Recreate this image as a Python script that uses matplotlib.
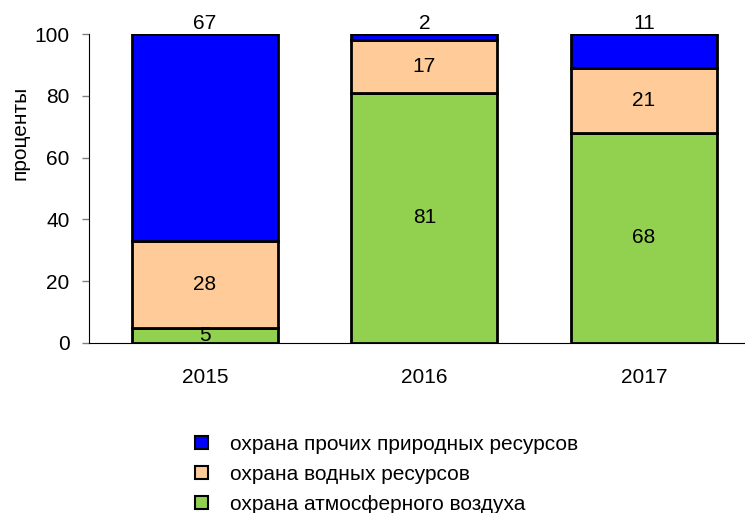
import numpy as np
import matplotlib
matplotlib.use('Agg')
from matplotlib import pyplot as plt
from matplotlib.patches import Patch

plt.rcParams['font.family'] = ['Liberation Sans', 'DejaVu Sans']

years = ['2015', '2016', '2017']
air = [5, 81, 68]
water = [28, 17, 21]
other = [67, 2, 11]
names = ['охрана атмосферного воздуха', 'охрана водных ресурсов', 'охрана прочих природных ресурсов']
colors = ['#92D050', '#FFCC99', '#0000FF']
fs = 15

fig = plt.figure(figsize=(7.45, 5.13), dpi=100)
ax = fig.add_axes([89/745, 1-343/513, 1-89/745, 309/513])

x = np.arange(len(years))
bottom = np.zeros(len(years))
series = [air, water, other]
for i, vals in enumerate(series):
    vals = np.array(vals, dtype=float)
    ax.bar(x, vals, 0.665, bottom=bottom, color=colors[i], edgecolor='black', linewidth=2, zorder=2)
    for j in range(len(years)):
        if i == 2:
            ax.annotate(str(int(vals[j])), (x[j], 100), xytext=(0, 1), textcoords='offset points',
                        ha='center', va='bottom', fontsize=fs)
        else:
            ax.text(x[j], bottom[j] + vals[j]/2, str(int(vals[j])), ha='center', va='center', fontsize=fs)
    bottom += vals

ax.set_xlim(-0.528, 2.46)
ax.set_ylim(0, 100)
ax.set_yticks([0, 20, 40, 60, 80, 100])
ax.set_xticks(x)
ax.set_xticklabels(years)
ax.tick_params(axis='x', length=0, pad=18, labelsize=fs)
ax.tick_params(axis='y', length=5, width=1, color='#808080', pad=9, labelsize=fs)
ax.spines['top'].set_visible(False)
ax.spines['right'].set_visible(False)
ax.set_ylabel('проценты', fontsize=fs)
ax.yaxis.set_label_coords(-0.09, 0.68)

handles = [Patch(facecolor=colors[i], edgecolor='black', linewidth=1.5) for i in [2, 1, 0]]
labels = [names[i] for i in [2, 1, 0]]
fig.legend(handles, labels, loc='upper left', bbox_to_anchor=(195/745, 1-435/513), frameon=False,
           fontsize=fs, handlelength=0.6, handleheight=0.6, handletextpad=1.1, labelspacing=0.52,
           borderaxespad=0, borderpad=0)

fig.savefig('out.png', dpi=100)
